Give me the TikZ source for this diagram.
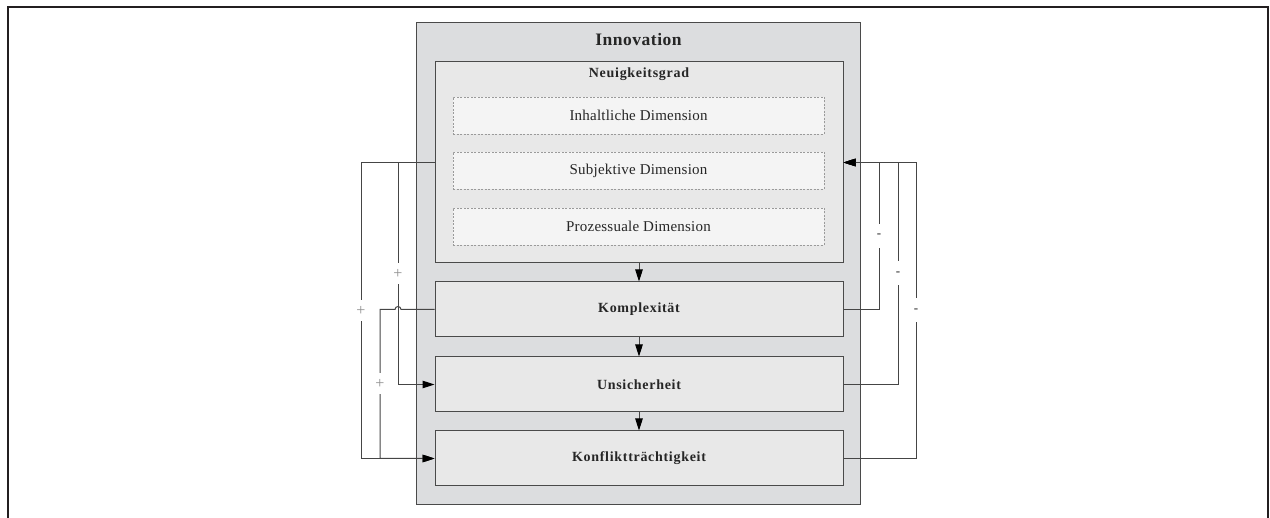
\documentclass[tikz,border=0pt]{standalone}
\usepackage{fontspec}
\setmainfont{Liberation Serif}
\newfontfamily\titlefont[LetterSpace=3]{Liberation Serif}
\newfontfamily\boxfont[LetterSpace=5]{Liberation Serif}
\newfontfamily\dimfont[LetterSpace=1.5]{Liberation Serif}
\usetikzlibrary{arrows.meta,calc}

\definecolor{framecol}{HTML}{231F20}
\definecolor{outerfill}{HTML}{DCDDDF}
\definecolor{innerfill}{HTML}{E8E8E8}
\definecolor{dimfill}{HTML}{F4F4F4}
\definecolor{edgecol}{HTML}{4A4A4A}
\definecolor{dimedge}{HTML}{9A9A9A}
\definecolor{linecol}{HTML}{454545}
\definecolor{pluscol}{HTML}{909090}
\definecolor{textcol}{HTML}{262626}

\begin{document}
\begin{tikzpicture}[x=1pt,y=-1pt,
  outerbox/.style={draw=edgecol, line width=1.2pt, fill=outerfill, inner sep=0pt,
    minimum width=444pt, minimum height=482pt},
  groupbox/.style={draw=edgecol, line width=1.0pt, fill=innerfill, inner sep=0pt,
    minimum width=408pt},
  factorbox/.style={groupbox, minimum height=55pt, text=textcol,
    font=\boxfont\bfseries\fontsize{14}{16}\selectfont},
  dimbox/.style={draw=dimedge, line width=0.8pt, dash pattern=on 2pt off 1.5pt, fill=dimfill,
    inner sep=0pt, minimum width=371pt, minimum height=37pt,
    font=\dimfont\fontsize{15}{17}\selectfont, text=textcol},
  conn/.style={draw=linecol, line width=1.0pt},
  arr/.style={conn, -{Triangle[length=12pt,width=7.5pt,color=black]}},
  plusmark/.style={fill=white, text=pluscol, inner xsep=1pt, inner ysep=0pt,
    minimum height=21pt, font=\fontsize{16}{16}\selectfont},
  minusmark/.style={fill=white, text=textcol, inner xsep=1pt, inner ysep=0pt,
    minimum height=24pt, font=\fontsize{13}{13}\selectfont},
]
\useasboundingbox (0,0) rectangle (1270,518);

% page frame, open at the bottom
\draw[framecol, line width=2.5pt] (8,518) -- (8,7) -- (1268,7) -- (1268,518);

% outer container
\node[outerbox] (innov) at (638.5,263.5) {};
\node[font=\titlefont\bfseries\fontsize{17.5}{19}\selectfont, text=textcol] (innovlbl) at (638.5,40) {Innovation};

% degree of novelty with its three dimensions
\node[groupbox, minimum height=201pt] (neu) at (639,162.5) {};
\node[font=\boxfont\bfseries\fontsize{14}{16}\selectfont, text=textcol] (neulbl) at (639,74) {Neuigkeitsgrad};
\node[dimbox] (inh) at (638.5,115.5) {Inhaltliche Dimension};
\node[dimbox] (sub) at (638.5,170.5) {Subjektive Dimension};
\node[dimbox] (proz) at (638.5,226.5) {Prozessuale Dimension};

% resulting characteristics
\node[factorbox] (kompl) at (639,309.5) {Komplexität};
\node[factorbox] (unsi) at (639,384.5) {Unsicherheit};
\node[factorbox] (konf) at (639,458.5) {Konfliktträchtigkeit};

% chain arrows
\draw[arr] (neu.south) -- (kompl.north);
\draw[arr] (kompl.south) -- (unsi.north);
\draw[arr] (unsi.south) -- (konf.north);

% lane positions of the feedback lines
\coordinate (l1) at (361,0);
\coordinate (l2) at (380,0);
\coordinate (l3) at (398,0);
\coordinate (r1) at (879,0);
\coordinate (r2) at (898,0);
\coordinate (r3) at (916,0);

% left side: positive effects
\draw[arr] (neu.west) -- (neu.west -| l1) -- node[plusmark] {+} (konf.west -| l1) -- (konf.west);
\draw[arr] (neu.west) -- (neu.west -| l3) -- node[plusmark] {+} (unsi.west -| l3) -- (unsi.west);
\draw[arr] (kompl.west) -- ($(kompl.west -| l3)+(3,0)$) arc[start angle=0, end angle=-180, radius=3]
  -- (kompl.west -| l2) -- node[plusmark] {+} (konf.west -| l2) -- (konf.west);

% right side: negative effects
\draw[arr] (konf.east) -- (konf.east -| r3) -- node[minusmark] {-} (neu.east -| r3) -- (neu.east);
\draw[arr] (unsi.east) -- (unsi.east -| r2) -- node[minusmark] {-} (neu.east -| r2) -- (neu.east);
\draw[arr] (kompl.east) -- (kompl.east -| r1) -- node[minusmark] {-} (neu.east -| r1) -- (neu.east);
\end{tikzpicture}
\end{document}
